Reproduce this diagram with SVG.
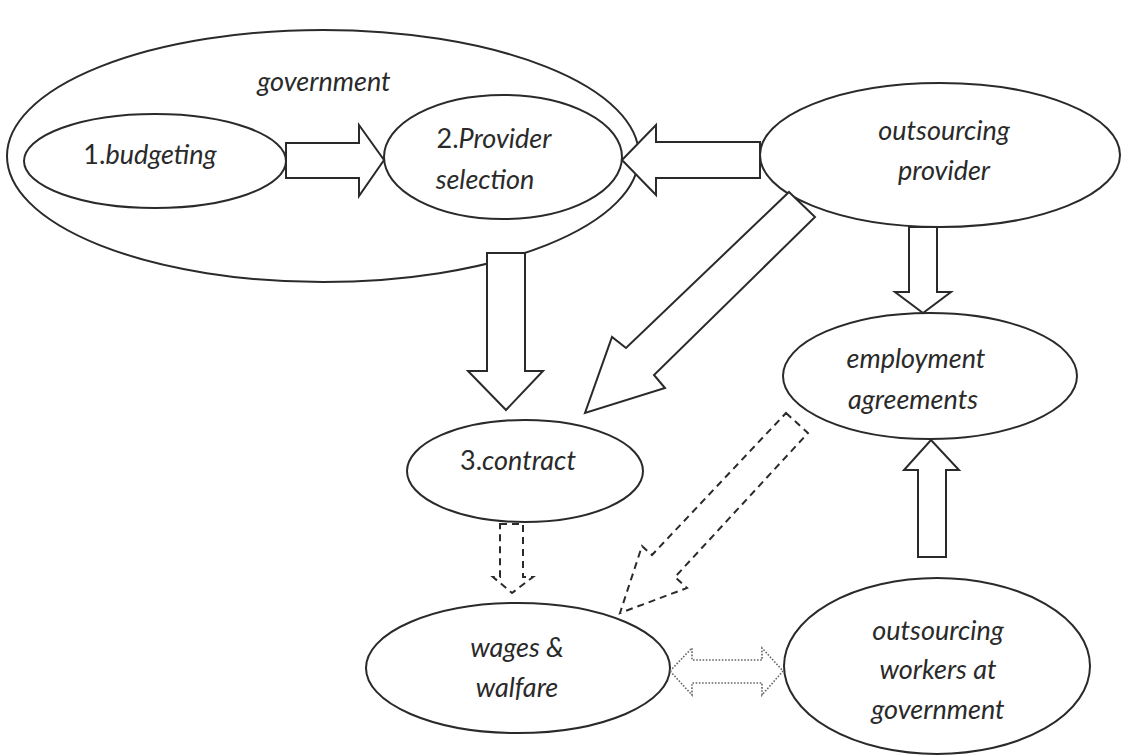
<svg xmlns="http://www.w3.org/2000/svg" width="1126" height="755" viewBox="0 0 1126 755">
<style>
.node{fill:#fff;stroke:#2a2a2a;stroke-width:2}
.lbl{font-family:Lato,"Liberation Sans",sans-serif;font-style:italic;font-size:27px;fill:#2a2a2a;text-anchor:middle}
.up{font-style:normal}
.arr{fill:#fff;stroke:#2a2a2a;stroke-width:2;stroke-linejoin:miter}
.dash{fill:#fff;stroke:#2a2a2a;stroke-width:2;stroke-dasharray:7 5}
.dot{fill:#fff;stroke:#666;stroke-width:1.6;stroke-dasharray:1.6 1.6}
</style>
<rect width="1126" height="755" fill="#fff"/>
<g id="government">
<ellipse class="node" cx="323" cy="156" rx="316" ry="126"/>
<text class="lbl" x="324" y="91">government</text>
</g>
<g id="budgeting">
<ellipse class="node" cx="155" cy="161" rx="131" ry="47"/>
<text class="lbl" x="150" y="164"><tspan class="up">1.</tspan>budgeting</text>
</g>
<g id="provider-selection">
<ellipse class="node" cx="503" cy="157" rx="119" ry="62"/>
<text class="lbl" x="494" y="148"><tspan class="up">2.</tspan>Provider</text>
<text class="lbl" x="485" y="189">selection</text>
</g>
<g id="outsourcing-provider">
<ellipse class="node" cx="940" cy="155" rx="180" ry="72"/>
<text class="lbl" x="944" y="140">outsourcing</text>
<text class="lbl" x="944" y="180">provider</text>
</g>
<g id="employment-agreements">
<ellipse class="node" cx="930" cy="376" rx="147" ry="63"/>
<text class="lbl" x="916" y="368">employment</text>
<text class="lbl" x="913" y="409">agreements</text>
</g>
<g id="contract">
<ellipse class="node" cx="525" cy="471" rx="118" ry="51"/>
<text class="lbl" x="518" y="470"><tspan class="up">3.</tspan>contract</text>
</g>
<g id="wages-welfare">
<ellipse class="node" cx="518" cy="668" rx="152" ry="65"/>
<text class="lbl" x="517" y="657">wages &amp;</text>
<text class="lbl" x="517" y="697">walfare</text>
</g>
<g id="outsourcing-workers">
<ellipse class="node" cx="937" cy="666" rx="153" ry="88"/>
<text class="lbl" x="938" y="640">outsourcing</text>
<text class="lbl" x="938" y="679">workers at</text>
<text class="lbl" x="938" y="719">government</text>
</g>
<g id="connectors">
<polygon class="arr" points="286,143 359,143 359,125 384,160 359,196 359,178 286,178"/>
<polygon class="arr" points="760,142 656,142 656,125 622,160 656,195 656,178 760,178"/>
<polygon class="arr" points="487,253 525,253 525,371 543,371 506,410 468,371 487,371"/>
<polygon class="arr" points="789,192 815,217 654,375 665,388 585,413 612,337 626,348"/>
<polygon class="arr" points="909,227 937,227 937,292 951,292 923,313 895,292 909,292"/>
<polygon class="arr" points="918,557 946,557 946,470 959,470 931,440 904,470 918,470"/>
<polygon class="dash" points="500,524 523,524 523,577 533,577 512,593 493,577 500,577"/>
<polygon class="dash" points="786,413 808,433 675,577 687,588 620,613 642,546 652,555"/>
<polygon class="dot" points="670,671 692,648 692,660 762,660 762,648 783,671 762,695 762,683 692,683 692,695"/>
</g>
</svg>
